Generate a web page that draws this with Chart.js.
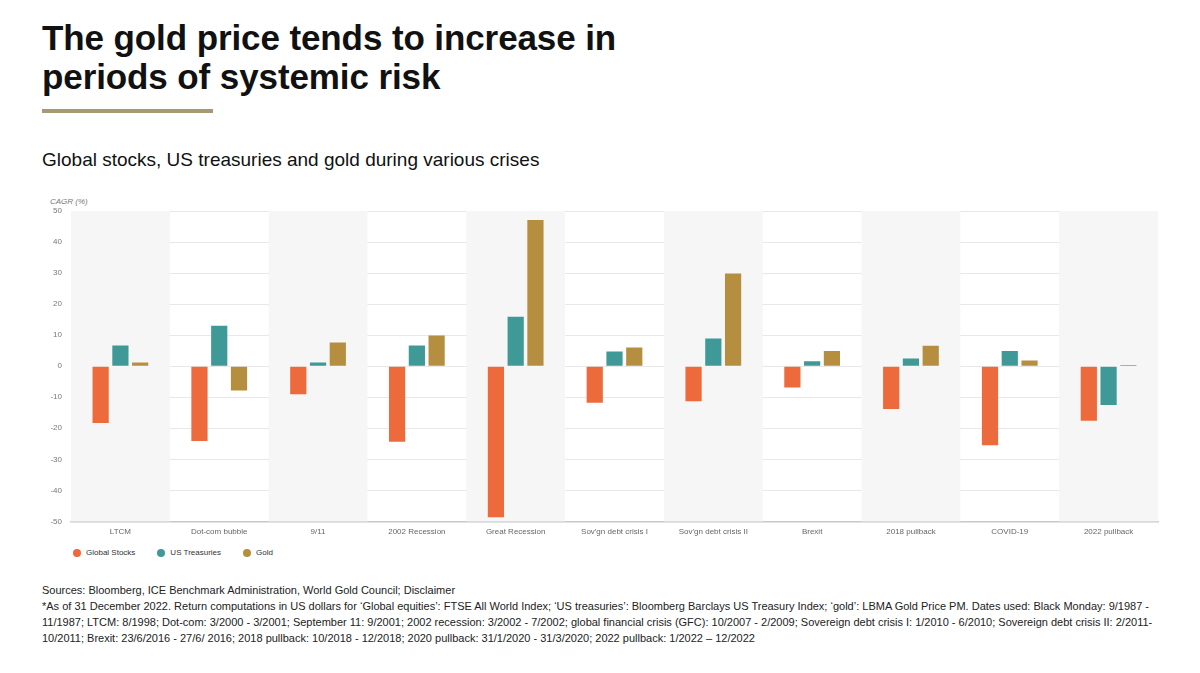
<!DOCTYPE html>
<html>
<head>
<meta charset="utf-8">
<script src="https://cdn.jsdelivr.net/npm/chart.js@4.4.0/dist/chart.umd.min.js"></script>
<style>
  body { margin: 0; width: 1200px; height: 673px; background: #fff; font-family: "Liberation Sans", Arial, sans-serif; position: relative; overflow: hidden; }
  .title { position: absolute; left: 42px; top: 18px; font-size: 35px; font-weight: bold; line-height: 39px; color: #111; letter-spacing: -0.1px; }
  .rule { position: absolute; left: 42px; top: 109px; width: 171px; height: 4px; background: #a59a72; }
  .subtitle { position: absolute; left: 42px; top: 149px; font-size: 19px; color: #111; }
  .unit { position: absolute; left: 50px; top: 197px; font-size: 8px; font-style: italic; color: #777; }
  .chart { position: absolute; left: 0; top: 195px; width: 1200px; height: 348px; }
  .legend { position: absolute; left: 73px; top: 548px; font-size: 8px; color: #333; display: flex; }
  .legend span { display: flex; align-items: center; margin-right: 22px; }
  .legend i { width: 8px; height: 8px; border-radius: 50%; margin-right: 5px; display: inline-block; }
  .notes { position: absolute; left: 42px; top: 582px; font-size: 11px; line-height: 16px; color: #222; }
</style>
</head>
<body>
<div class="title">The gold price tends to increase in<br>periods of systemic risk</div>
<div class="rule"></div>
<div class="subtitle">Global stocks, US treasuries and gold during various crises</div>
<div class="unit">CAGR (%)</div>
<div class="chart"><canvas id="goldChart"></canvas></div>
<div class="legend" id="legend"></div>
<div class="notes">
  Sources: Bloomberg, ICE Benchmark Administration, World Gold Council; Disclaimer<br>
  *As of 31 December 2022. Return computations in US dollars for ‘Global equities’: FTSE All World Index; ‘US treasuries’: Bloomberg Barclays US Treasury Index; ‘gold’: LBMA Gold Price PM. Dates used: Black Monday: 9/1987 -<br>
  11/1987; LTCM: 8/1998; Dot-com: 3/2000 - 3/2001; September 11: 9/2001; 2002 recession: 3/2002 - 7/2002; global financial crisis (GFC): 10/2007 - 2/2009; Sovereign debt crisis I: 1/2010 - 6/2010; Sovereign debt crisis II: 2/2011-<br>
  10/2011; Brexit: 23/6/2016 - 27/6/ 2016; 2018 pullback: 10/2018 - 12/2018; 2020 pullback: 31/1/2020 - 31/3/2020; 2022 pullback: 1/2022 – 12/2022
</div>
<script>
  // Crisis periods and CAGR (%)
  const crises = ['LTCM', 'Dot-com bubble', '9/11', '2002 Recession', 'Great Recession', "Sov'gn debt crisis I", "Sov'gn debt crisis II", 'Brexit', '2018 pullback', 'COVID-19', '2022 pullback'];
  const globalStocks = [-18.3, -24.1, -9.0, -24.3, -48.7, -11.8, -11.3, -6.9, -13.8, -25.5, -17.6];
  const usTreasuries = [6.7, 13.0, 1.2, 6.7, 15.9, 4.7, 8.9, 1.6, 2.5, 4.9, -12.5];
  const gold = [1.2, -7.8, 7.6, 9.9, 47.1, 6.0, 29.9, 4.9, 6.6, 1.8, 0.4];
  const yTicks = [-50, -40, -30, -20, -10, 0, 10, 20, 30, 40, 50];

  // Alternating grey column bands behind the bars
  const bandPlugin = {
    id: 'bands',
    beforeDatasetsDraw(chart) {
      const { ctx, chartArea, scales } = chart;
      const xs = scales.x;
      const step = xs.getPixelForValue(1) - xs.getPixelForValue(0);
      ctx.save();
      ctx.fillStyle = '#f6f6f6';
      crises.forEach((c, i) => {
        if (i % 2 === 0) {
          const cx = xs.getPixelForValue(i);
          ctx.fillRect(cx - step / 2, chartArea.top, step, chartArea.bottom - chartArea.top);
        }
      });
      ctx.restore();
    }
  };

  const ctx = document.getElementById('goldChart').getContext('2d');
  const goldChart = new Chart(ctx, {
    type: 'bar',
    data: {
      labels: crises,
      datasets: [{
        label: 'Global Stocks',
        data: globalStocks,
        backgroundColor: '#ec6a3b'
      }, {
        label: 'US Treasuries',
        data: usTreasuries,
        backgroundColor: '#3f9a97'
      }, {
        label: 'Gold',
        data: gold,
        backgroundColor: '#b58f3f'
      }]
    },
    options: {
      responsive: true,
      maintainAspectRatio: false,
      animation: false,
      datasets: {
        bar: { categoryPercentage: 0.6, barPercentage: 0.82 }
      },
      layout: { padding: { left: 40, right: 42, top: 16, bottom: 0 } },
      scales: {
        x: {
          grid: { display: false, drawTicks: false },
          border: { color: '#c8c8c8', width: 1.5 },
          ticks: { color: '#666', font: { size: 8, family: 'Liberation Sans' }, padding: 6, maxRotation: 0 }
        },
        y: {
          min: -50,
          max: 50,
          afterFit: (scale) => { scale.width = 31; },
          afterBuildTicks: (scale) => { scale.ticks = yTicks.map(v => ({ value: v })); },
          grid: { color: '#e8e8e8', drawTicks: false },
          border: { color: '#d8d8d8' },
          ticks: { color: '#777', font: { size: 8, family: 'Liberation Sans' }, padding: 9 }
        }
      },
      plugins: {
        legend: { display: false },
        tooltip: { enabled: false }
      }
    },
    plugins: [bandPlugin]
  });

  // Legend built from the chart's own datasets
  const legendEl = document.getElementById('legend');
  goldChart.data.datasets.forEach(ds => {
    const item = document.createElement('span');
    item.innerHTML = '<i style="background:' + ds.backgroundColor + '"></i>' + ds.label;
    legendEl.appendChild(item);
  });
</script>
</body>
</html>
